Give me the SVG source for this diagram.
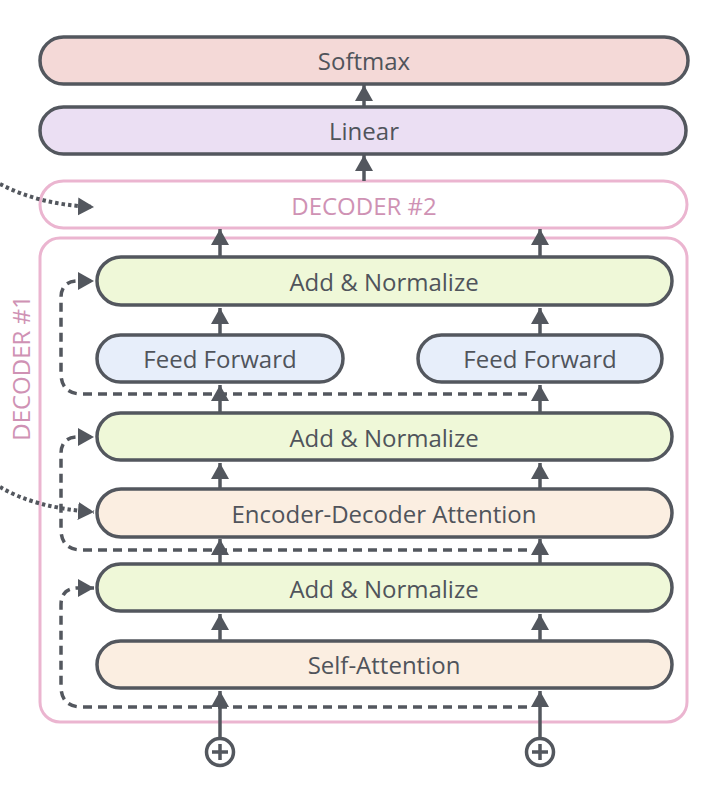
<svg xmlns="http://www.w3.org/2000/svg" width="724" height="792" viewBox="0 0 724 792">
<defs>
<style>
.box{stroke:#53575e;stroke-width:3.5}
.lbl{font-family:"Open Sans","Liberation Sans",sans-serif;font-size:24px;font-weight:500;fill:#50545b;text-anchor:middle;dominant-baseline:central}
.pk{font-family:"Open Sans","Liberation Sans",sans-serif;font-size:24px;font-weight:500;fill:#cf92b4;text-anchor:middle;dominant-baseline:central}
.ar{stroke:#53575e;stroke-width:3.5;fill:none}
.dash{stroke:#53575e;stroke-width:3.5;fill:none;stroke-dasharray:9 6}
.dot{stroke:#53575e;stroke-width:4;fill:none;stroke-dasharray:3.5 3}
</style>
<marker id="ah" markerUnits="userSpaceOnUse" markerWidth="20" markerHeight="20" refX="16" refY="9" orient="auto">
<path d="M0,0 L16,9 L0,18 Z" fill="#53575e"/>
</marker>
</defs>
<rect width="724" height="792" fill="#ffffff"/>
<g id="softmax"><rect class="box" x="40" y="37" width="648" height="47" rx="23.5" fill="#f4d9d7"/><text class="lbl" x="364" y="60">Softmax</text></g>
<g id="linear"><rect class="box" x="40" y="107" width="646" height="47" rx="23.5" fill="#ebdff3"/><text class="lbl" x="364" y="130">Linear</text></g>
<g id="decoder2"><rect x="40" y="181" width="647" height="47" rx="23.5" fill="#ffffff" stroke="#ebb5d0" stroke-width="3"/><text class="pk" x="364" y="205">DECODER #2</text></g>
<g id="decoder1"><rect x="40" y="238" width="647" height="484" rx="20" fill="none" stroke="#ebb5d0" stroke-width="3"/><text class="pk" x="20" y="368" transform="rotate(-90 20 368)">DECODER #1</text></g>
<g id="addnorm1"><rect class="box" x="97" y="257" width="575" height="48" rx="24" fill="#eff8d8"/><text class="lbl" x="384" y="281">Add &amp; Normalize</text></g>
<g id="ff1"><rect class="box" x="97" y="335" width="246" height="47" rx="23.5" fill="#e7eefa"/><text class="lbl" x="220" y="358">Feed Forward</text></g>
<g id="ff2"><rect class="box" x="418" y="335" width="244" height="47" rx="23.5" fill="#e7eefa"/><text class="lbl" x="540" y="358">Feed Forward</text></g>
<g id="addnorm2"><rect class="box" x="97" y="413" width="575" height="47" rx="23.5" fill="#eff8d8"/><text class="lbl" x="384" y="437">Add &amp; Normalize</text></g>
<g id="encdec"><rect class="box" x="97" y="489" width="575" height="48" rx="24" fill="#fbeee1"/><text class="lbl" x="384" y="513">Encoder-Decoder Attention</text></g>
<g id="addnorm3"><rect class="box" x="97" y="564" width="575" height="47" rx="23.5" fill="#eff8d8"/><text class="lbl" x="384" y="588">Add &amp; Normalize</text></g>
<g id="selfatt"><rect class="box" x="97" y="641" width="575" height="47" rx="23.5" fill="#fbeee1"/><text class="lbl" x="384" y="664">Self-Attention</text></g>
<g id="plus1"><circle cx="220" cy="752" r="13.5" fill="#ffffff" stroke="#53575e" stroke-width="3.5"/><path d="M212,752 H228 M220,744 V760" stroke="#53575e" stroke-width="3.5"/></g>
<g id="plus2"><circle cx="540" cy="752" r="13.5" fill="#ffffff" stroke="#53575e" stroke-width="3.5"/><path d="M532,752 H548 M540,744 V760" stroke="#53575e" stroke-width="3.5"/></g>
<g id="connectors">
<line class="ar" x1="364" y1="107" x2="364" y2="85" marker-end="url(#ah)"/>
<line class="ar" x1="364" y1="181" x2="364" y2="155" marker-end="url(#ah)"/>
<line class="ar" x1="220" y1="257" x2="220" y2="229" marker-end="url(#ah)"/>
<line class="ar" x1="540" y1="257" x2="540" y2="229" marker-end="url(#ah)"/>
<line class="ar" x1="220" y1="335" x2="220" y2="308" marker-end="url(#ah)"/>
<line class="ar" x1="540" y1="335" x2="540" y2="308" marker-end="url(#ah)"/>
<line class="ar" x1="220" y1="413" x2="220" y2="385" marker-end="url(#ah)"/>
<line class="ar" x1="540" y1="413" x2="540" y2="385" marker-end="url(#ah)"/>
<line class="ar" x1="220" y1="489" x2="220" y2="463" marker-end="url(#ah)"/>
<line class="ar" x1="540" y1="489" x2="540" y2="463" marker-end="url(#ah)"/>
<line class="ar" x1="220" y1="564" x2="220" y2="539" marker-end="url(#ah)"/>
<line class="ar" x1="540" y1="564" x2="540" y2="539" marker-end="url(#ah)"/>
<line class="ar" x1="220" y1="641" x2="220" y2="614" marker-end="url(#ah)"/>
<line class="ar" x1="540" y1="641" x2="540" y2="614" marker-end="url(#ah)"/>
<line class="ar" x1="220" y1="738" x2="220" y2="691" marker-end="url(#ah)"/>
<line class="ar" x1="540" y1="738" x2="540" y2="691" marker-end="url(#ah)"/>
<path class="dash" d="M527,394 H82 Q61,394 61,373 V298 Q61,281 78,281 H94" marker-end="url(#ah)"/>
<path class="dash" d="M527,550 H82 Q61,550 61,529 V454 Q61,437 78,437 H94" marker-end="url(#ah)"/>
<path class="dash" d="M527,707 H82 Q61,707 61,686 V605 Q61,588 78,588 H94" marker-end="url(#ah)"/>
<path class="dot" d="M0,184 Q40,205 94,207" marker-end="url(#ah)"/>
<path class="dot" d="M0,487 Q35,508 94,512" marker-end="url(#ah)"/>
</g>
</svg>
